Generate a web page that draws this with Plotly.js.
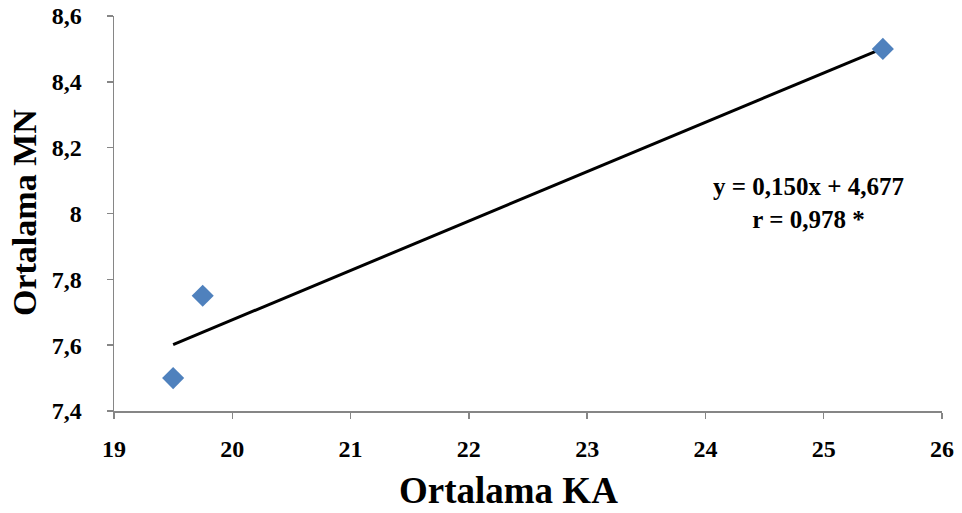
<!DOCTYPE html>
<html>
<head>
<meta charset="utf-8">
<script src="https://cdn.plot.ly/plotly-3.0.1.min.js"></script>
<style>html,body{margin:0;padding:0;background:#fff;}#chart{width:962px;height:513px;}</style>
</head>
<body>
<div id="chart"></div>
<script>
var ka = [19.5, 19.75, 25.5];
var mn = [7.5, 7.75, 8.5];
var trendX = [19.5, 25.5];
var trendY = [7.602, 8.502];
var xTicks = [19, 20, 21, 22, 23, 24, 25, 26];
var yTicks = [7.4, 7.6, 7.8, 8, 8.2, 8.4, 8.6];
var yTickText = ["7,4", "7,6", "7,8", "8", "8,2", "8,4", "8,6"];
var eqLines = ["y = 0,150x + 4,677", "r = 0,978 *"];
var xTitle = "Ortalama KA";
var yTitle = "Ortalama MN";

var font = "Liberation Serif";
var data = [
  {x: trendX, y: trendY, mode: "lines", type: "scatter",
   line: {color: "#000000", width: 3}, hoverinfo: "skip"},
  {x: ka, y: mn, mode: "markers", type: "scatter",
   marker: {symbol: "diamond", size: 17, color: "#4f81bd"}}
];
var layout = {
  width: 962, height: 513,
  margin: {l: 114, r: 20, t: 16, b: 102},
  showlegend: false,
  paper_bgcolor: "#ffffff", plot_bgcolor: "#ffffff",
  separators: ",.",
  font: {family: font, color: "#000000"},
  xaxis: {
    range: [19, 26], tickvals: xTicks, ticktext: xTicks.map(function(v){return "<b>" + v + "</b>";}),
    showgrid: false, zeroline: false, showline: true, linecolor: "#868686", linewidth: 1.5,
    ticks: "outside", ticklen: 6, tickcolor: "#868686", tickwidth: 1.5,
    ticklabelstandoff: 10,
    tickfont: {family: font, size: 24, color: "#000000"}
  },
  yaxis: {
    range: [7.4, 8.6], tickvals: yTicks, ticktext: yTickText.map(function(v){return "<b>" + v + "</b>";}),
    showgrid: false, zeroline: false, showline: true, linecolor: "#868686", linewidth: 1.5,
    ticks: "outside", ticklen: 6, tickcolor: "#868686", tickwidth: 1.5,
    ticklabelstandoff: 20,
    tickfont: {family: font, size: 24, color: "#000000"}
  },
  annotations: [
    {px: 808, py: 203, showarrow: false,
     text: "<b>" + eqLines.join("</b><br><b>") + "</b>",
     font: {family: font, size: 25, color: "#000000"}, align: "center"},
    {px: 508, py: 490, showarrow: false,
     text: "<b>" + xTitle + "</b>", font: {family: font, size: 37, color: "#000000"}},
    {px: 24, py: 213, showarrow: false, textangle: -90,
     text: "<b>" + yTitle + "</b>", font: {family: font, size: 34, color: "#000000"}}
  ]
};
// convert pixel positions of annotations to paper fractions
var pw = layout.width - layout.margin.l - layout.margin.r;
var ph = layout.height - layout.margin.t - layout.margin.b;
layout.annotations.forEach(function(a){
  a.xref = "paper"; a.yref = "paper";
  a.xanchor = "center"; a.yanchor = "middle";
  a.x = (a.px - layout.margin.l) / pw;
  a.y = (layout.height - layout.margin.b - a.py) / ph;
  delete a.px; delete a.py;
});
Plotly.newPlot("chart", data, layout, {displayModeBar: false, staticPlot: true});
</script>
</body>
</html>
